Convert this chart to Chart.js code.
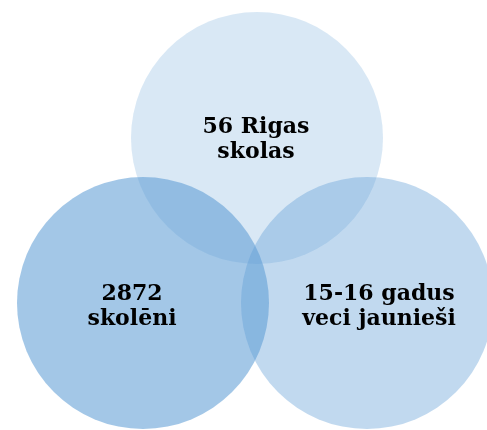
<!DOCTYPE html>
<html>
<head>
<meta charset="utf-8">
<script src="https://cdn.jsdelivr.net/npm/chart.js@4/dist/chart.umd.min.js"></script>
<style>
html,body{margin:0;padding:0;background:#fff;}
#wrap{width:487px;height:430px;position:relative;}
</style>
</head>
<body>
<div id="wrap"><canvas id="c" width="487" height="430"></canvas></div>
<script>
// Venn sets
const setLabels = [["56 Rigas", "skolas"], ["2872", "skolēni"], ["15-16 gadus", "veci jaunieši"]];
const centerX = [257, 143, 367];
const centerY = [138, 303, 303];
const radius = [126, 126, 126];
const labelX = [256, 132, 379];
const labelY = [140, 307, 307];
const fillColors = ["rgba(91,155,213,0.23)", "rgba(91,155,213,0.56)", "rgba(91,155,213,0.38)"];

const points = centerX.map((x, i) => ({ x: x, y: centerY[i], r: radius[i] }));

const labelPlugin = {
  id: 'vennLabels',
  afterDatasetsDraw(chart) {
    const ctx = chart.ctx;
    const xs = chart.scales.x, ys = chart.scales.y;
    ctx.save();
    ctx.fillStyle = '#000';
    ctx.textAlign = 'center';
    ctx.textBaseline = 'middle';
    ctx.font = 'bold 22px "DejaVu Serif"';
    const lh = 25;
    setLabels.forEach((lines, i) => {
      const px = xs.getPixelForValue(labelX[i]);
      const py = ys.getPixelForValue(labelY[i]);
      const top = py - (lines.length - 1) * lh / 2;
      lines.forEach((t, j) => ctx.fillText(t, px, top + j * lh));
    });
    ctx.restore();
  }
};

new Chart(document.getElementById('c'), {
  type: 'bubble',
  data: {
    datasets: [{
      data: points,
      backgroundColor: fillColors,
      borderWidth: 0,
      hoverBorderWidth: 0,
      clip: false
    }]
  },
  options: {
    responsive: false,
    animation: false,
    events: [],
    layout: { padding: 0, autoPadding: false },
    plugins: { legend: { display: false }, tooltip: { enabled: false } },
    scales: {
      x: { type: 'linear', min: 0, max: 487, display: false },
      y: { type: 'linear', min: 0, max: 430, reverse: true, display: false }
    }
  },
  plugins: [labelPlugin]
});
</script>
</body>
</html>
